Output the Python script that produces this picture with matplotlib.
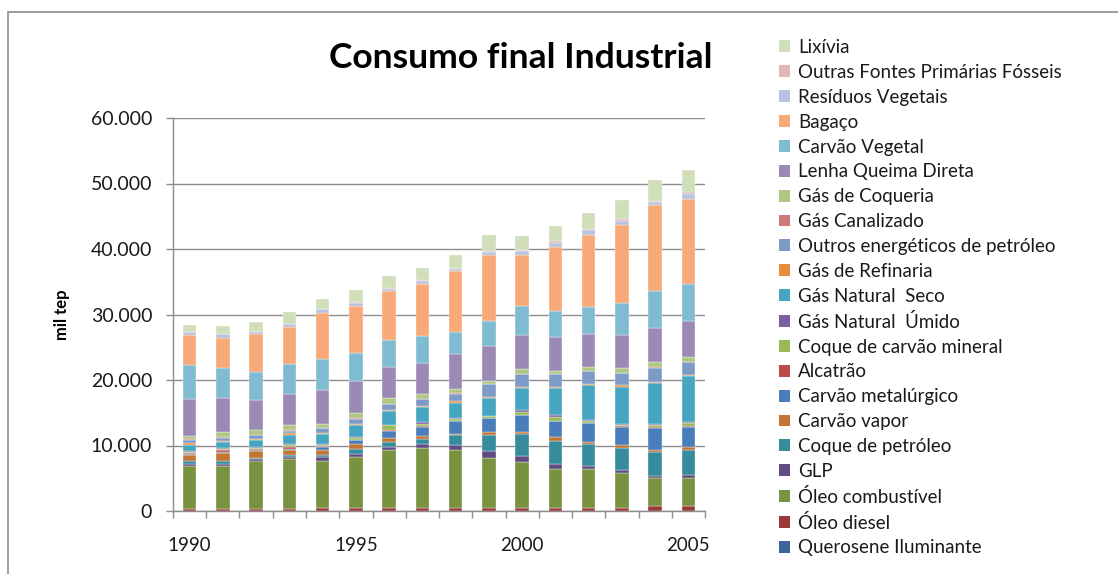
import matplotlib
matplotlib.use("Agg")
import matplotlib.pyplot as plt
import numpy as np
from matplotlib.ticker import FuncFormatter, FixedLocator
from matplotlib.patches import Rectangle, Patch

plt.rcParams['font.family'] = ['Lato', 'DejaVu Sans']

years = list(range(1990, 2006))

querosene = [30, 30, 25, 25, 20, 20, 20, 15, 15, 15, 10, 10, 10, 10, 10, 10]
oleo_diesel = [250, 250, 250, 250, 450, 450, 450, 450, 450, 450, 450, 450, 450, 450, 700, 700]
oleo_comb = [6600, 6630, 7400, 7700, 7140, 7800, 8820, 9180, 8870, 7700, 7040, 6020, 6020, 5360, 4280, 4340]
glp = [250, 200, 200, 300, 610, 360, 510, 660, 710, 970, 870, 660, 410, 410, 360, 410]
coque_petroleo = [450, 510, 200, 200, 400, 765, 765, 660, 1530, 2450, 3370, 3620, 3370, 3420, 3670, 3830]
carvao_vapor = [1000, 1275, 1120, 870, 710, 765, 510, 510, 200, 510, 300, 510, 200, 410, 300, 460]
carvao_metalurgico = [100, 150, 150, 150, 510, 610, 1120, 1380, 1940, 2040, 2550, 2450, 2960, 2800, 3370, 3110]
alcatrao = [100, 200, 100, 200, 100, 100, 100, 100, 80, 80, 80, 80, 80, 80, 80, 80]
coque_carvao = [250, 150, 150, 400, 200, 300, 765, 400, 250, 250, 510, 510, 300, 250, 410, 510]
gn_umido = [150, 150, 100, 100, 100, 100, 100, 200, 100, 100, 250, 410, 150, 150, 150, 150]
gn_seco = [900, 1000, 1070, 1430, 1530, 1790, 2040, 2300, 2350, 2750, 3370, 4080, 5250, 5610, 6270, 7040]
gas_refinaria = [250, 200, 255, 255, 150, 150, 150, 150, 250, 150, 150, 150, 150, 250, 150, 150]
outros_energeticos = [450, 460, 560, 360, 710, 870, 920, 1020, 1170, 1890, 1890, 1890, 2040, 1890, 2140, 1890]
gas_canalizado = [200, 100, 60, 60, 50, 50, 50, 40, 40, 40, 30, 30, 30, 30, 30, 30]
gas_coqueria = [500, 765, 710, 765, 660, 765, 870, 870, 710, 410, 765, 510, 510, 660, 765, 765]
lenha = [5550, 5200, 4540, 4740, 5100, 5000, 4850, 4640, 5300, 5360, 5200, 5250, 5100, 5100, 5250, 5460]
carvao_vegetal = [5250, 4600, 4280, 4590, 4740, 4280, 4080, 4180, 3370, 3830, 4390, 3830, 4180, 4850, 5710, 5760]
bagaco = [4600, 4600, 5800, 5760, 6990, 7190, 7400, 7900, 9280, 10100, 7850, 9840, 10970, 11930, 13000, 12900]
residuos = [400, 510, 410, 360, 610, 460, 360, 510, 360, 510, 660, 610, 660, 660, 460, 770]
outras_fontes = [50, 60, 60, 80, 80, 100, 100, 120, 150, 120, 150, 250, 250, 250, 200, 360]
lixivia = [1000, 1170, 1480, 1790, 1580, 1790, 1840, 1890, 1940, 2400, 2140, 2300, 2450, 2960, 3160, 3320]

series_names = [
    "Querosene Iluminante", "Óleo diesel", "Óleo combustível", "GLP",
    "Coque de petróleo", "Carvão vapor", "Carvão metalúrgico", "Alcatrão",
    "Coque de carvão mineral", "Gás Natural  Úmido", "Gás Natural  Seco",
    "Gás de Refinaria", "Outros energéticos de petróleo", "Gás Canalizado",
    "Gás de Coqueria", "Lenha Queima Direta", "Carvão Vegetal", "Bagaço",
    "Resíduos Vegetais", "Outras Fontes Primárias Fósseis", "Lixívia",
]
series_values = [
    querosene, oleo_diesel, oleo_comb, glp, coque_petroleo, carvao_vapor,
    carvao_metalurgico, alcatrao, coque_carvao, gn_umido, gn_seco,
    gas_refinaria, outros_energeticos, gas_canalizado, gas_coqueria, lenha,
    carvao_vegetal, bagaco, residuos, outras_fontes, lixivia,
]
colors = [
    "#3C6598", "#983B39", "#789240", "#614B82", "#368B9D", "#C37534",
    "#4A7EBB", "#BE4B48", "#98B954", "#7B5FA0", "#46A6C1", "#E98C3C",
    "#7E9BC8", "#CC7B7A", "#AFC783", "#9C8AB6", "#7FBCD1", "#F8A978",
    "#B6C3DF", "#E0B7B6", "#D1DEBA",
]

W, H = 1118, 574
fig = plt.figure(figsize=(W / 100, H / 100), dpi=100)

# outer chart frame (only top and left edges fall inside the picture)
fig.patches.append(Rectangle((8 / W, -0.2), 1.5, 1.2 - 12 / H,
                             transform=fig.transFigure, fill=False,
                             edgecolor="#8C8C8C", linewidth=1.2))

ax = fig.add_axes([173 / W, 1 - 511 / H, (705 - 173) / W, (511 - 118) / H])

x = np.arange(len(years))
bottom = np.zeros(len(years))
for name, vals, c in zip(series_names, series_values, colors):
    v = np.array(vals, dtype=float)
    ax.bar(x, v, width=0.4, bottom=bottom, color=c, label=name,
           edgecolor="white", linewidth=0.25, zorder=3)
    bottom += v

ax.set_xlim(-0.5, len(years) - 0.5)
ax.set_ylim(0, 60000)
ax.set_yticks(np.arange(0, 60001, 10000))
ax.yaxis.set_major_formatter(FuncFormatter(lambda v, p: f"{int(v):,}".replace(",", ".")))
ax.yaxis.grid(True, color="#8C8C8C", linewidth=1.0, zorder=0)
ax.set_axisbelow(True)

# category separators as ticks, labels every 5 years
ax.xaxis.set_major_locator(FixedLocator(np.arange(-0.5, len(years), 1.0)))
ax.xaxis.set_major_formatter(FuncFormatter(lambda v, p: ""))
ax.xaxis.set_minor_locator(FixedLocator([i for i, y in enumerate(years) if y % 5 == 0]))
ax.xaxis.set_minor_formatter(FuncFormatter(lambda v, p: str(years[int(round(v))])))
ax.tick_params(axis="x", which="major", length=5, color="#8C8C8C", width=1.0)
ax.tick_params(axis="x", which="minor", length=0, pad=19, labelsize=13.5,
               labelcolor="#1A1A1A")
ax.tick_params(axis="y", length=5, color="#8C8C8C", width=1.0, labelsize=14,
               pad=10, labelcolor="#1A1A1A")

for s in ["top", "right"]:
    ax.spines[s].set_visible(False)
for s in ["left", "bottom"]:
    ax.spines[s].set_color("#8C8C8C")
    ax.spines[s].set_linewidth(1.0)

ax.set_ylabel("mil tep", fontsize=12, fontweight="bold")
ax.yaxis.set_label_coords((70 - 173) / 532, 0.5)

fig.text(521 / W, 1 - 58 / H, "Consumo final Industrial", ha="center", va="center",
         fontsize=25.5, fontweight="bold")

handles = [Patch(facecolor=c, edgecolor="none") for c in colors]
leg = fig.legend(handles[::-1], series_names[::-1], loc="upper left",
                 bbox_to_anchor=(779 / W, 1 - 39 / H), frameon=False,
                 fontsize=13.5, handlelength=0.6, handleheight=0.6,
                 handletextpad=0.4, labelspacing=0.42, borderaxespad=0,
                 borderpad=0)
for t in leg.get_texts():
    t.set_color("#1A1A1A")

fig.savefig("out.png", dpi=100)
